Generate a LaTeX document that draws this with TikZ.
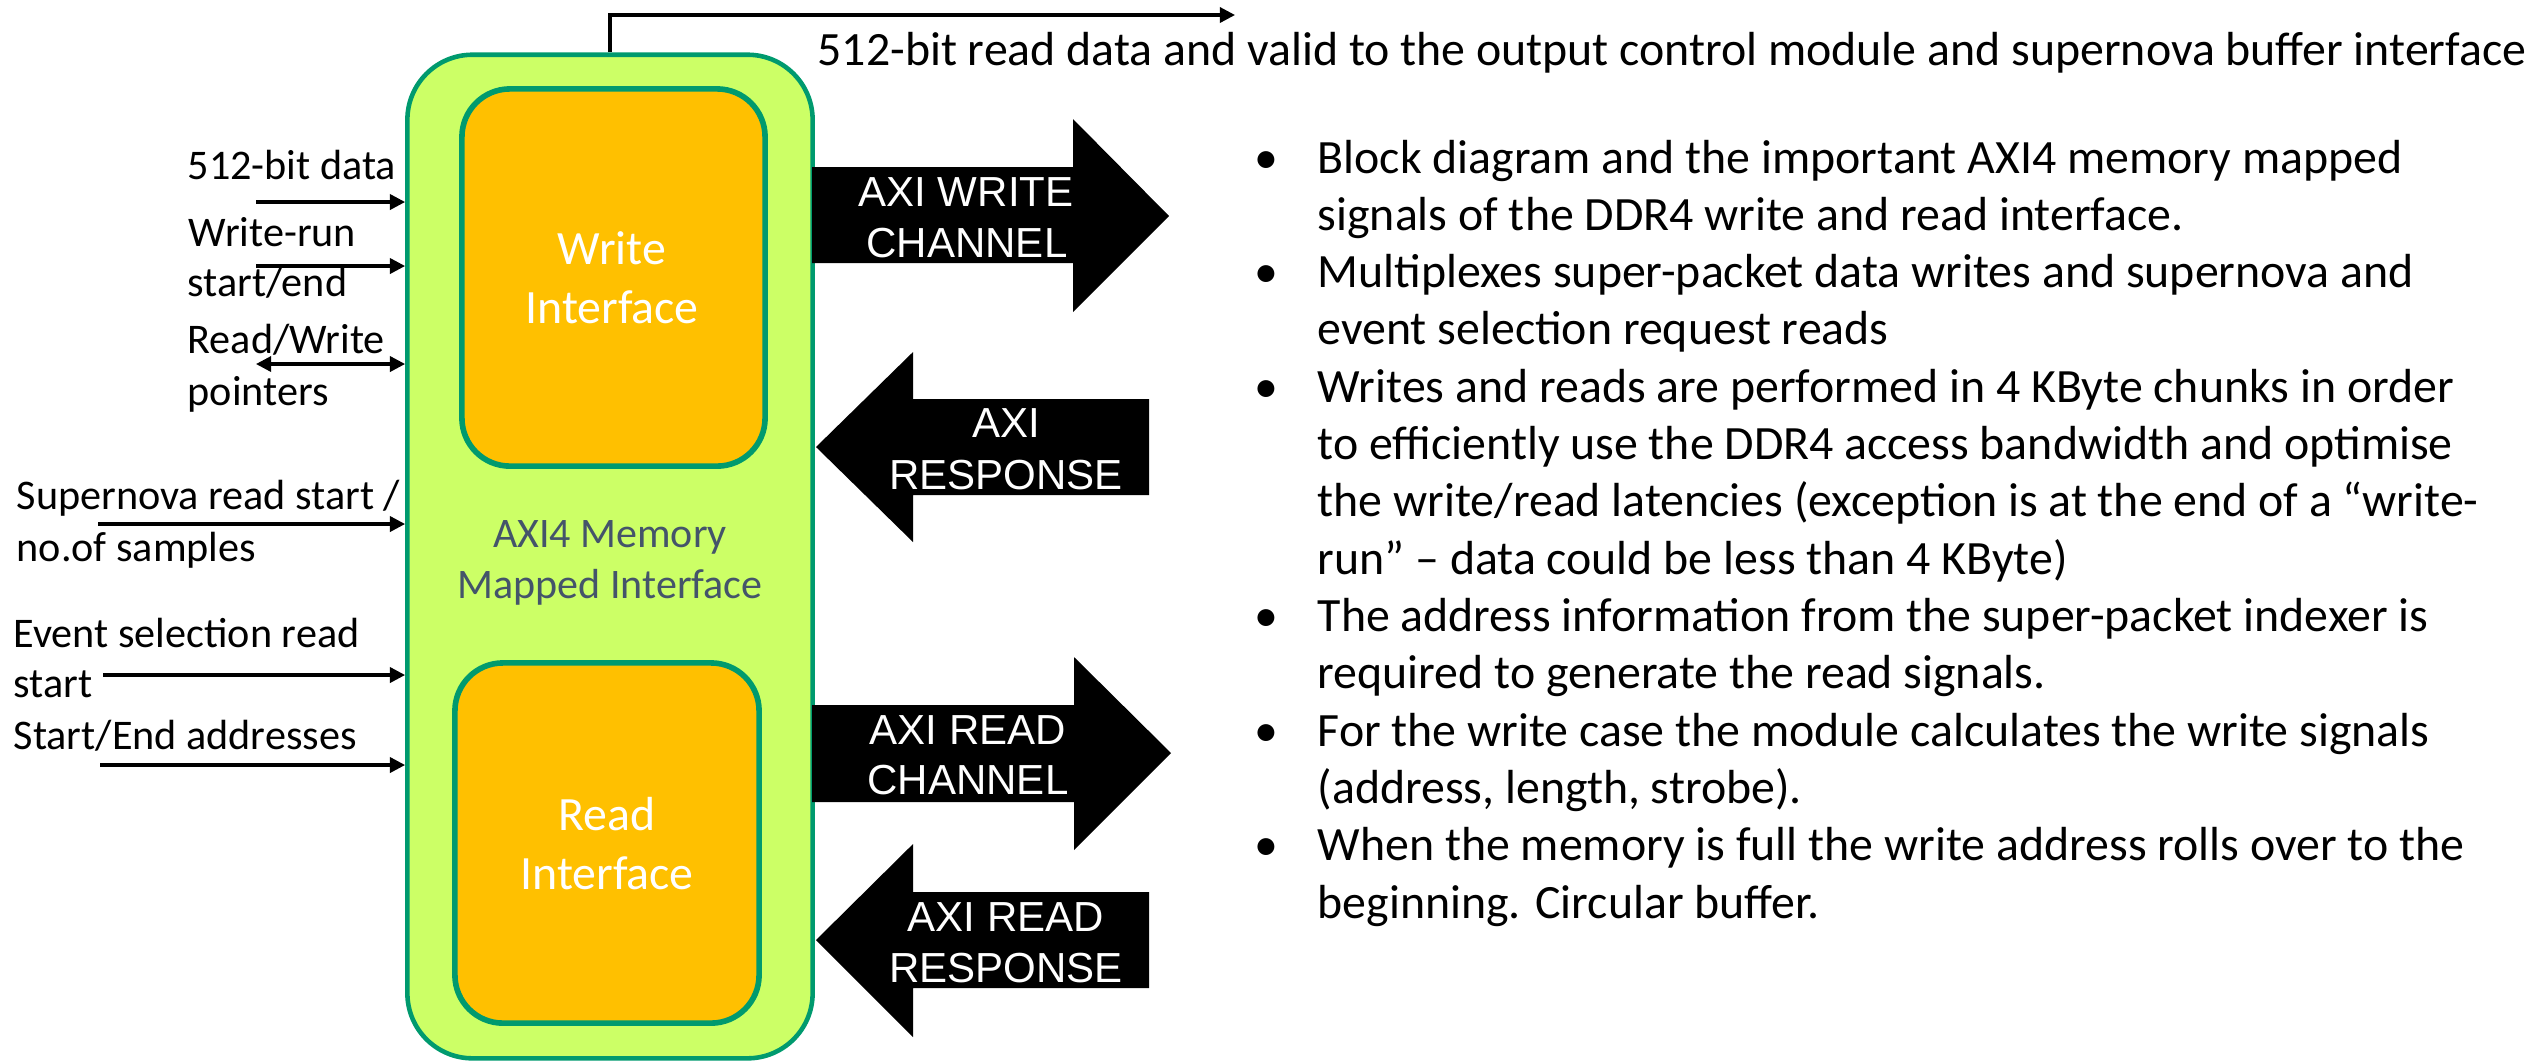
\documentclass[tikz,border=0pt]{standalone}
\usepackage{fontspec}
\setmainfont{Carlito}
\newfontfamily\arialf{Liberation Sans}
\usetikzlibrary{arrows.meta,calc}
\definecolor{limefill}{HTML}{CCFF66}
\definecolor{tealline}{HTML}{009A6E}
\definecolor{goldfill}{HTML}{FFC000}
\definecolor{slatetext}{HTML}{44546A}
\begin{document}
\begin{tikzpicture}[x=0.01cm,y=-0.01cm,
  lbl/.style={anchor=base west,inner sep=0,font=\fontsize{12}{14}\selectfont},
  blt/.style={anchor=base west,inner sep=0,font=\fontsize{13.6}{16}\selectfont},
  dotb/.style={anchor=base,inner sep=0,font=\fontsize{13.6}{16}\selectfont},
  inner/.style={anchor=base,inner sep=0,text=white,font=\fontsize{13.6}{16}\selectfont},
  axitext/.style={anchor=base,inner sep=0,text=white,font=\arialf\fontsize{11.95}{14}\selectfont},
  sig/.style={line width=0.9pt,-{Triangle[length=4.3pt,width=4.3pt]}},
  dsig/.style={line width=0.9pt,{Triangle[length=4.3pt,width=4.3pt]}-{Triangle[length=4.3pt,width=4.3pt]}},
  blockarrow/.style={fill=black},
  ifbox/.style={draw=tealline,fill=goldfill,line width=1.6pt,rounded corners=0.48cm,inner sep=0}
]
\useasboundingbox (0,0) rectangle (2540,1062);

% main block
\node[draw=tealline,fill=limefill,line width=1.3pt,rounded corners=0.65cm,
      minimum width=4.05cm,minimum height=10.03cm,inner sep=0] (outer) at (610,556.5) {};
\node[ifbox,minimum width=3.03cm,minimum height=3.77cm] (wbox) at (613.5,277.5) {};
\node[ifbox,minimum width=3.04cm,minimum height=3.60cm] (rbox) at (607,843) {};

\node[inner] (wt1) at (612,264) {Write};
\node[inner] (wt2) at (612,323) {Interface};
\node[inner] (rt1) at (607,830) {Read};
\node[inner] (rt2) at (607,889) {Interface};
\node[anchor=base,inner sep=0,text=slatetext,font=\fontsize{11.95}{14}\selectfont] (m1) at (610,547) {AXI4 Memory};
\node[anchor=base,inner sep=0,text=slatetext,font=\fontsize{11.95}{14}\selectfont] (m2) at (610,598) {Mapped Interface};

% input labels
\node[lbl] (l1) at (187,179) {512-bit data};
\node[lbl] (l2) at (188,246) {Write-run};
\node[lbl] (l3) at (187,296) {start/end};
\node[lbl] (l4) at (187,353) {Read/Write};
\node[lbl] (l5) at (187,405) {pointers};
\node[lbl] (l6) at (16,509) {Supernova read start /};
\node[lbl] (l7) at (16,561) {no.of samples};
\node[lbl] (l8) at (13,647) {Event selection read};
\node[lbl] (l9) at (13,697) {start};
\node[lbl] (l10) at (13,749) {Start/End addresses};

% input arrows
\coordinate (i1) at (256,202);
\coordinate (i2) at (256,266);
\coordinate (i3) at (256,364);
\coordinate (i4) at (98,524);
\coordinate (i5) at (103,675);
\coordinate (i6) at (100,765);
\draw[sig] (i1) -- (i1 -| outer.west);
\draw[sig] (i2) -- (i2 -| outer.west);
\draw[dsig] (i3) -- (i3 -| outer.west);
\draw[sig] (i4) -- (i4 -| outer.west);
\draw[sig] (i5) -- (i5 -| outer.west);
\draw[sig] (i6) -- (i6 -| outer.west);

% output to top
\coordinate (tout) at (1235,15);
\draw[sig] (outer.north) |- (tout);
\node[anchor=base west,inner sep=0,font=\fontsize{13.6}{16}\selectfont] (toptext) at (817,65)
  {512-bit read data and valid to the output control module and supernova buffer interface};

% block arrows
\fill[blockarrow] (812,167) -- (1073,167) -- (1073,119) -- (1169,216) -- (1073,312) -- (1073,263) -- (812,263) -- cycle;
\fill[blockarrow] (816,447) -- (913,352) -- (913,399) -- (1149,399) -- (1149,495) -- (913,495) -- (913,542) -- cycle;
\fill[blockarrow] (812,705) -- (1074,705) -- (1074,657) -- (1171,753) -- (1074,850) -- (1074,802) -- (812,802) -- cycle;
\fill[blockarrow] (816,940) -- (913,844) -- (913,892) -- (1149,892) -- (1149,988) -- (913,988) -- (913,1037) -- cycle;

\node[axitext] (a1) at (966,206) {AXI WRITE};
\node[axitext] (a2) at (967,257) {CHANNEL};
\node[axitext] (a3) at (1006,437) {AXI};
\node[axitext] (a4) at (1006,489) {RESPONSE};
\node[axitext] (a5) at (968,744) {AXI READ};
\node[axitext] (a6) at (968,794) {CHANNEL};
\node[axitext] (a7) at (1006,931) {AXI READ};
\node[axitext] (a8) at (1006,982) {RESPONSE};

% bullet list
\node[dotb] (b1) at (1266,173) {•};
\node[dotb] (b2) at (1266,287.6) {•};
\node[dotb] (b3) at (1266,402.2) {•};
\node[dotb] (b4) at (1266,631.4) {•};
\node[dotb] (b5) at (1266,746) {•};
\node[dotb] (b6) at (1266,860.6) {•};
\node[blt] (t1) at (1317,173) {Block diagram and the important AXI4 memory mapped};
\node[blt] (t2) at (1317,230.3) {signals of the DDR4 write and read interface.};
\node[blt] (t3) at (1317,287.6) {Multiplexes super-packet data writes and supernova and};
\node[blt] (t4) at (1317,344.9) {event selection request reads};
\node[blt] (t5) at (1317,402.2) {Writes and reads are performed in 4 KByte chunks in order};
\node[blt] (t6) at (1317,459.5) {to efficiently use the DDR4 access bandwidth and optimise};
\node[blt] (t7) at (1317,516.8) {the write/read latencies (exception is at the end of a “write-};
\node[blt] (t8) at (1317,574.1) {run” – data could be less than 4 KByte)};
\node[blt] (t9) at (1317,631.4) {The address information from the super-packet indexer is};
\node[blt] (t10) at (1317,688.7) {required to generate the read signals.};
\node[blt] (t11) at (1317,746) {For the write case the module calculates the write signals};
\node[blt] (t12) at (1317,803.3) {(address, length, strobe).};
\node[blt] (t13) at (1317,860.6) {When the memory is full the write address rolls over to the};
\node[blt] (t14) at (1317,918) {beginning. Circular buffer.};
\end{tikzpicture}
\end{document}
